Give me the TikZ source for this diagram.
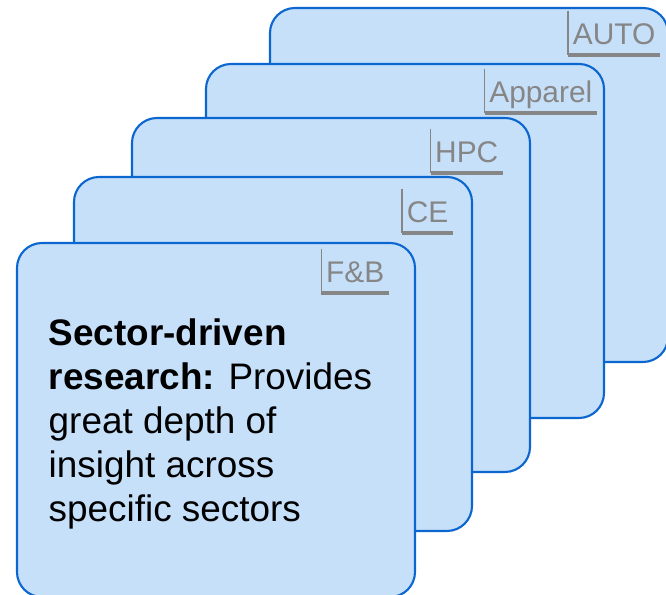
\documentclass[tikz,border=0pt]{standalone}
\usepackage{fontspec}
\setmainfont{Liberation Sans}
\usetikzlibrary{positioning}
\definecolor{cardfill}{HTML}{C6E0FA}
\definecolor{cardedge}{HTML}{0B66CF}
\definecolor{tabgray}{HTML}{868686}
\tikzset{
  card/.style={rectangle,rounded corners=0.25cm,minimum width=3.98cm,minimum height=3.54cm,
    draw=cardedge,fill=cardfill,line width=0.6pt},
  sector/.style={font=\fontsize{8.5}{10}\selectfont,text=tabgray,anchor=south east,
    inner xsep=0.04cm,inner ysep=0pt,text height=0.33cm,text depth=0.1cm},
  tabside/.style={tabgray,line width=0.45pt},
  tabbar/.style={tabgray,line width=1.2pt},
  bodytext/.style={font=\fontsize{10.5}{12.5}\selectfont,align=left,inner sep=0pt},
}
\begin{document}
\begin{tikzpicture}
  \useasboundingbox (0,0) rectangle (6.66,5.95);
  % stack of sector cards, back to front
  \node[card] (auto) at (4.69,4.10) {};
  \node[sector] (autolbl) at (6.60,5.40) {AUTO};
  \draw[tabside] (autolbl.north west) -- (autolbl.south west);
  \draw[tabbar] (autolbl.south west) -- (autolbl.south east);

  \node[card] (apparel) at (4.05,3.54) {};
  \node[sector] (apparellbl) at (5.97,4.82) {Apparel};
  \draw[tabside] (apparellbl.north west) -- (apparellbl.south west);
  \draw[tabbar] (apparellbl.south west) -- (apparellbl.south east);

  \node[card] (hpc) at (3.31,3.00) {};
  \node[sector] (hpclbl) at (5.03,4.22) {HPC};
  \draw[tabside] (hpclbl.north west) -- (hpclbl.south west);
  \draw[tabbar] (hpclbl.south west) -- (hpclbl.south east);

  \node[card] (ce) at (2.73,2.41) {};
  \node[sector] (celbl) at (4.53,3.62) {CE};
  \draw[tabside] (celbl.north west) -- (celbl.south west);
  \draw[tabbar] (celbl.south west) -- (celbl.south east);

  \node[card] (fb) at (2.16,1.75) {};
  \node[sector] (fblbl) at (3.89,3.02) {F\&B};
  \draw[tabside] (fblbl.north west) -- (fblbl.south west);
  \draw[tabbar] (fblbl.south west) -- (fblbl.south east);

  % description on the front card
  \node[bodytext,anchor=north west] (desc) at (0.48,2.77) {
    \textbf{Sector-driven}\\
    \textbf{research:} Provides\\
    great depth of\\
    insight across\\
    specific sectors};
\end{tikzpicture}
\end{document}
